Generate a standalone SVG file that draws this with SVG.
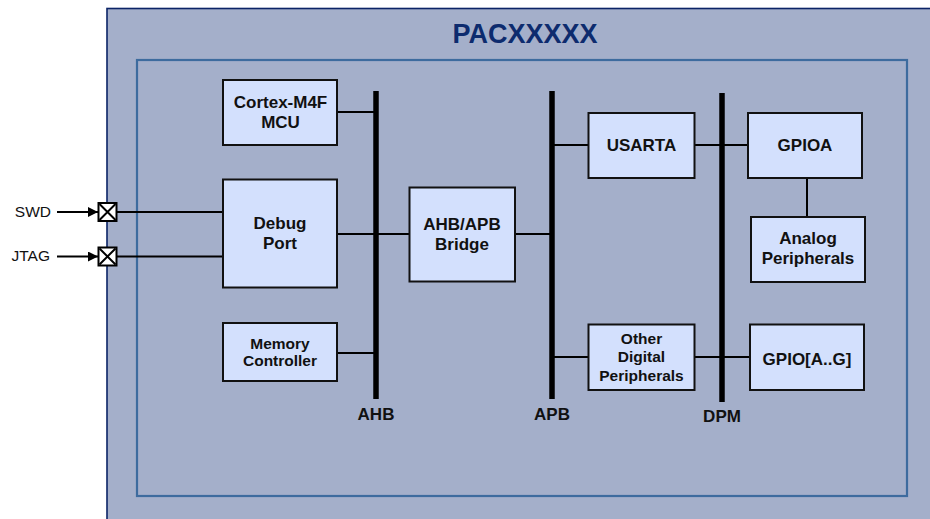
<svg xmlns="http://www.w3.org/2000/svg" width="930" height="519" viewBox="0 0 930 519">
  <defs>
    <marker id="arrow" viewBox="0 0 10 10" refX="10" refY="5" markerWidth="10" markerHeight="10" markerUnits="userSpaceOnUse" orient="auto">
      <path d="M0,0 L10,5 L0,10 Z" fill="#000"/>
    </marker>
    <style>
      .box { fill: #d3e0fd; stroke: #111; stroke-width: 2; }
      .lbl { font-family: "Liberation Sans", Arial, sans-serif; font-weight: bold; font-size: 17px; fill: #111; text-anchor: middle; }
      .sm { font-size: 15.5px; }
      .bus { stroke: #000; stroke-width: 5.5; fill: none; }
      .wire { stroke: #000; stroke-width: 2; fill: none; }
      .pin { font-family: "Liberation Sans", Arial, sans-serif; font-size: 15.5px; fill: #111; text-anchor: end; }
    </style>
  </defs>

  <rect width="930" height="519" fill="#fff"/>

  <!-- chip outline -->
  <g id="chip">
    <rect x="107" y="8.5" width="840" height="530" fill="#a4afca" stroke="#0b2466" stroke-width="1.6"/>
    <text x="525" y="43" font-family="Liberation Sans, Arial, sans-serif" font-weight="bold" font-size="27" fill="#0d2b6e" text-anchor="middle">PACXXXXX</text>
    <rect x="137" y="60" width="770" height="436" fill="none" stroke="#3d6b9e" stroke-width="2.2"/>
  </g>

  <!-- buses and connecting wires -->
  <g id="connectors">
    <line class="bus" x1="376" y1="91" x2="376" y2="399"/>
    <line class="bus" x1="552" y1="91" x2="552" y2="399"/>
    <line class="bus" x1="722" y1="93" x2="722" y2="402"/>

    <line class="wire" x1="337" y1="112" x2="376" y2="112"/>
    <line class="wire" x1="337" y1="234" x2="409" y2="234"/>
    <line class="wire" x1="515" y1="234" x2="552" y2="234"/>
    <line class="wire" x1="337" y1="353" x2="376" y2="353"/>

    <line class="wire" x1="552" y1="145" x2="588" y2="145"/>
    <line class="wire" x1="694" y1="145" x2="748" y2="145"/>
    <line class="wire" x1="807" y1="178" x2="807" y2="217"/>

    <line class="wire" x1="552" y1="357" x2="588" y2="357"/>
    <line class="wire" x1="694" y1="357" x2="750" y2="357"/>

    <line class="wire" x1="117" y1="212" x2="223" y2="212"/>
    <line class="wire" x1="117" y1="256.5" x2="223" y2="256.5"/>

    <line class="wire" x1="57" y1="212" x2="98" y2="212" marker-end="url(#arrow)"/>
    <line class="wire" x1="57" y1="256.5" x2="98" y2="256.5" marker-end="url(#arrow)"/>
  </g>

  <!-- external pins -->
  <g id="pin-swd">
    <rect x="98.5" y="203" width="18" height="18" fill="#fff" stroke="#000" stroke-width="2"/>
    <path d="M99.5,204 L115.5,220 M115.5,204 L99.5,220" stroke="#000" stroke-width="2"/>
    <text class="pin" x="51" y="216.5">SWD</text>
  </g>
  <g id="pin-jtag">
    <rect x="98.5" y="247.5" width="18" height="18" fill="#fff" stroke="#000" stroke-width="2"/>
    <path d="M99.5,248.5 L115.5,264.5 M115.5,248.5 L99.5,264.5" stroke="#000" stroke-width="2"/>
    <text class="pin" x="50" y="261">JTAG</text>
  </g>

  <!-- functional blocks -->
  <g id="cortex">
    <rect class="box" x="223" y="80" width="114" height="65"/>
    <text class="lbl" x="280.5" y="107.5">Cortex-M4F</text>
    <text class="lbl" x="280.5" y="127.5">MCU</text>
  </g>
  <g id="debug-port">
    <rect class="box" x="223" y="179.5" width="114" height="108"/>
    <text class="lbl" x="280" y="228.5">Debug</text>
    <text class="lbl" x="280" y="248.5">Port</text>
  </g>
  <g id="memory-controller">
    <rect class="box" x="223" y="323" width="114" height="58"/>
    <text class="lbl sm" x="280" y="349">Memory</text>
    <text class="lbl sm" x="280" y="366">Controller</text>
  </g>
  <g id="bridge">
    <rect class="box" x="409.5" y="187.5" width="105.5" height="94"/>
    <text class="lbl" x="462" y="229.5">AHB/APB</text>
    <text class="lbl" x="462" y="249.5">Bridge</text>
  </g>
  <g id="usarta">
    <rect class="box" x="588.5" y="113" width="106" height="65"/>
    <text class="lbl" x="641.5" y="151">USARTA</text>
  </g>
  <g id="other-digital">
    <rect class="box" x="588.5" y="324.5" width="106" height="65.5"/>
    <text class="lbl sm" x="641.5" y="344">Other</text>
    <text class="lbl sm" x="641.5" y="362">Digital</text>
    <text class="lbl sm" x="641.5" y="380.5">Peripherals</text>
  </g>
  <g id="gpioa">
    <rect class="box" x="748" y="113" width="114" height="65"/>
    <text class="lbl" x="805" y="151">GPIOA</text>
  </g>
  <g id="analog">
    <rect class="box" x="751" y="217" width="114" height="65"/>
    <text class="lbl" x="808" y="244">Analog</text>
    <text class="lbl" x="808" y="264">Peripherals</text>
  </g>
  <g id="gpio-ag">
    <rect class="box" x="750" y="324.5" width="114" height="65.5"/>
    <text class="lbl" x="807" y="364.5">GPIO[A..G]</text>
  </g>

  <!-- bus names -->
  <g id="bus-labels">
    <text class="lbl" x="376" y="419.5">AHB</text>
    <text class="lbl" x="552" y="419.5">APB</text>
    <text class="lbl" x="722" y="422">DPM</text>
  </g>
</svg>
